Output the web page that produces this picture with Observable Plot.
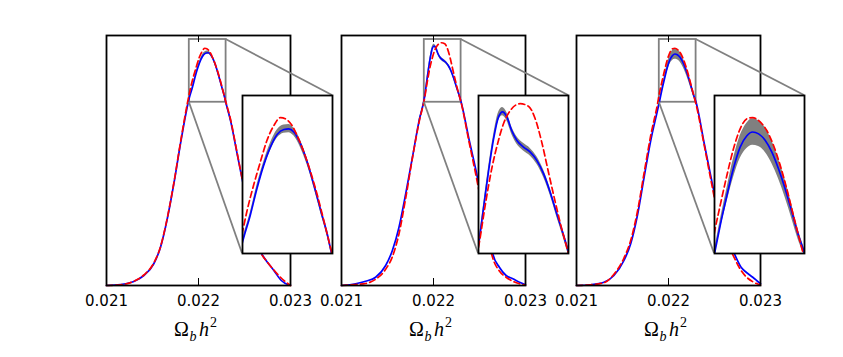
<!DOCTYPE html>
<html><head><meta charset="utf-8">
<script src="https://cdn.jsdelivr.net/npm/d3@7"></script>
<script src="https://cdn.jsdelivr.net/npm/@observablehq/plot@0.6"></script>
<style>
body{margin:0;background:#fff}
#fig{position:relative;width:843px;height:357px;overflow:hidden;background:#fff}
#fig > *{position:absolute}
</style>
</head><body><div id="fig"></div>
<script>
// ---- data ----
const xTicks = [0.021, 0.022, 0.023];
const xDomain = [0.021, 0.023];
const yDomain = [0, 1];
const zoomX = [0.0219, 0.0223];
const zoomY = [0.733, 0.984];

// panel 1
const blueX1 = [0.021000,0.021152,0.021297,0.021406,0.021514,0.021587,0.021641,0.021732,0.021804,0.021877,0.021900,0.021934,0.021964,0.021994,0.022024,0.022054,0.022084,0.022106,0.022128,0.022158,0.022188,0.022218,0.022248,0.022278,0.022293,0.022348,0.022420,0.022493,0.022565,0.022620,0.022674,0.022710,0.022819,0.022900,0.022970,0.023000];
const blueY1 = [0.000,0.004,0.016,0.040,0.087,0.153,0.233,0.407,0.567,0.713,0.751,0.793,0.836,0.873,0.902,0.922,0.930,0.931,0.926,0.907,0.878,0.841,0.801,0.762,0.738,0.660,0.527,0.393,0.280,0.200,0.135,0.113,0.060,0.020,0.004,0.002];
const redX1 = [0.021000,0.021152,0.021297,0.021406,0.021514,0.021587,0.021641,0.021732,0.021804,0.021877,0.021900,0.021919,0.021949,0.021979,0.022009,0.022039,0.022069,0.022090,0.022121,0.022143,0.022173,0.022203,0.022233,0.022263,0.022293,0.022348,0.022420,0.022493,0.022565,0.022620,0.022674,0.022746,0.022819,0.022891,0.023000];
const redY1 = [0.000,0.003,0.017,0.042,0.090,0.155,0.236,0.410,0.572,0.725,0.767,0.799,0.841,0.878,0.913,0.936,0.949,0.947,0.936,0.920,0.894,0.862,0.825,0.783,0.740,0.665,0.530,0.395,0.280,0.200,0.135,0.095,0.062,0.033,0.000];
const bandX1 = [0.021877,0.021900,0.021934,0.021964,0.021994,0.022024,0.022054,0.022084,0.022106,0.022128,0.022158,0.022188,0.022218,0.022248,0.022278,0.022293,0.022348];
const bandLo1 = [0.708,0.747,0.789,0.832,0.868,0.896,0.916,0.924,0.925,0.920,0.901,0.873,0.837,0.797,0.758,0.734,0.656];
const bandHi1 = [0.718,0.755,0.797,0.841,0.878,0.908,0.929,0.937,0.938,0.932,0.913,0.883,0.846,0.805,0.766,0.742,0.664];

// panel 2
const blueX2 = [0.021000,0.021153,0.021262,0.021371,0.021480,0.021553,0.021625,0.021698,0.021771,0.021844,0.021904,0.021922,0.021944,0.021967,0.021989,0.022007,0.022026,0.022048,0.022070,0.022100,0.022130,0.022159,0.022189,0.022219,0.022248,0.022278,0.022296,0.022389,0.022462,0.022505,0.022571,0.022607,0.022644,0.022716,0.022789,0.022862,0.022935,0.023000];
const blueY2 = [0.000,0.007,0.017,0.033,0.080,0.140,0.233,0.367,0.513,0.660,0.756,0.804,0.862,0.915,0.950,0.958,0.950,0.928,0.913,0.902,0.894,0.881,0.860,0.830,0.796,0.762,0.740,0.580,0.460,0.380,0.270,0.200,0.127,0.073,0.040,0.027,0.013,0.003];
const redX2 = [0.021000,0.021153,0.021262,0.021371,0.021480,0.021553,0.021625,0.021698,0.021771,0.021844,0.021904,0.021930,0.021959,0.021989,0.022011,0.022041,0.022085,0.022122,0.022152,0.022181,0.022211,0.022241,0.022270,0.022296,0.022389,0.022462,0.022505,0.022571,0.022607,0.022644,0.022716,0.022789,0.022862,0.022935,0.023000];
const redY2 = [0.000,0.004,0.008,0.025,0.065,0.115,0.207,0.350,0.510,0.655,0.751,0.810,0.868,0.913,0.939,0.960,0.971,0.967,0.947,0.910,0.862,0.815,0.772,0.738,0.570,0.440,0.360,0.240,0.165,0.110,0.058,0.033,0.017,0.007,0.001];
const bandX2 = [0.021844,0.021904,0.021922,0.021944,0.021967,0.021989,0.022007,0.022026,0.022048,0.022070,0.022100,0.022130,0.022159,0.022189,0.022219,0.022248,0.022278,0.022296,0.022389];
const bandLo2 = [0.655,0.751,0.799,0.857,0.909,0.944,0.952,0.944,0.922,0.907,0.896,0.888,0.875,0.854,0.825,0.791,0.757,0.735,0.576];
const bandHi2 = [0.665,0.761,0.809,0.868,0.921,0.957,0.965,0.957,0.934,0.919,0.908,0.900,0.887,0.866,0.836,0.801,0.767,0.745,0.584];

// panel 3
const blueX3 = [0.021000,0.021153,0.021298,0.021407,0.021516,0.021589,0.021662,0.021735,0.021807,0.021880,0.021903,0.021925,0.021955,0.021984,0.022014,0.022044,0.022069,0.022096,0.022125,0.022155,0.022184,0.022214,0.022244,0.022273,0.022296,0.022389,0.022462,0.022516,0.022607,0.022716,0.022789,0.022844,0.022916,0.023000];
const blueY3 = [0.000,0.003,0.013,0.040,0.100,0.167,0.280,0.433,0.580,0.700,0.738,0.777,0.825,0.868,0.902,0.920,0.926,0.923,0.913,0.894,0.868,0.836,0.799,0.762,0.738,0.567,0.433,0.340,0.230,0.127,0.073,0.053,0.033,0.007];
const redX3 = [0.021000,0.021153,0.021298,0.021407,0.021516,0.021589,0.021662,0.021735,0.021807,0.021880,0.021903,0.021925,0.021955,0.021984,0.022014,0.022044,0.022069,0.022103,0.022133,0.022162,0.022192,0.022221,0.022251,0.022281,0.022296,0.022389,0.022462,0.022516,0.022607,0.022716,0.022789,0.022844,0.022916,0.023000];
const redY3 = [0.000,0.003,0.011,0.045,0.110,0.180,0.295,0.450,0.600,0.725,0.772,0.809,0.857,0.899,0.931,0.947,0.949,0.942,0.928,0.905,0.873,0.836,0.793,0.751,0.730,0.560,0.420,0.320,0.205,0.110,0.060,0.035,0.015,0.002];
const bandX3 = [0.021880,0.021903,0.021925,0.021955,0.021984,0.022014,0.022044,0.022069,0.022096,0.022125,0.022155,0.022184,0.022214,0.022244,0.022273,0.022296,0.022389];
const bandLo3 = [0.695,0.732,0.770,0.814,0.853,0.884,0.900,0.905,0.903,0.894,0.876,0.852,0.822,0.788,0.754,0.732,0.562];
const bandHi3 = [0.705,0.744,0.785,0.836,0.883,0.920,0.940,0.947,0.944,0.933,0.912,0.884,0.850,0.810,0.770,0.744,0.572];

// ---- build tables ----
const zip = (xs, ys) => xs.map((x, i) => ({x, y: ys[i]}));
const zipBand = (xs, lo, hi) => xs.map((x, i) => ({x, lo: lo[i], hi: hi[i]}));
const panels = [
  {blue: zip(blueX1, blueY1), red: zip(redX1, redY1), band: zipBand(bandX1, bandLo1, bandHi1)},
  {blue: zip(blueX2, blueY2), red: zip(redX2, redY2), band: zipBand(bandX2, bandLo2, bandHi2)},
  {blue: zip(blueX3, blueY3), red: zip(redX3, redY3), band: zipBand(bandX3, bandLo3, bandHi3)}
];
const zoomBox = {x1: zoomX[0], x2: zoomX[1], y1: zoomY[0], y2: zoomY[1]};

// ---- layout & style ----
const L = {panelLefts: [106, 341, 576], panelTop: 35, panelW: 184, panelH: 250,
  insetLefts: [242, 478, 714], insetTop: 95, insetW: 90, insetH: 158,
  mL: 30, mR: 30, mT: 10, mB: 60, tick: 7, labelY: 336};
const BLUE = "#0000ff", RED = "#ff0000", GRAY = "#808080";
const LW = 1.7;

const fig = document.getElementById("fig");
const mains = [];

panels.forEach((p, i) => {
  const plot = Plot.plot({
    width: L.panelW + L.mL + L.mR,
    height: L.panelH + L.mT + L.mB,
    marginLeft: L.mL, marginRight: L.mR, marginTop: L.mT, marginBottom: L.mB,
    style: {background: "transparent", overflow: "visible", fontFamily: "DejaVu Sans", fontSize: "15px", color: "black"},
    x: {domain: xDomain, ticks: xTicks, tickFormat: d3.format(".3f"), tickSize: 0, tickPadding: 10, label: null},
    y: {domain: yDomain, axis: null},
    marks: [
      Plot.rect([zoomBox], {x1: "x1", x2: "x2", y1: "y1", y2: "y2", fill: "none", stroke: GRAY, strokeWidth: 1.8}),
      Plot.areaY(p.band, {x: "x", y1: "lo", y2: "hi", fill: GRAY, curve: "monotone-x"}),
      Plot.line(p.blue, {x: "x", y: "y", stroke: BLUE, strokeWidth: LW, curve: "monotone-x"}),
      Plot.line(p.red, {x: "x", y: "y", stroke: RED, strokeWidth: LW, strokeDasharray: "6,3.5", curve: "monotone-x"}),
      Plot.tickX(xTicks, {x: d => d, insetTop: L.panelH - L.tick, stroke: "black", strokeWidth: 1}),
      Plot.tickX(xTicks, {x: d => d, insetBottom: L.panelH - L.tick, stroke: "black", strokeWidth: 1}),
      Plot.frame({stroke: "black", strokeWidth: 1.8})
    ]
  });
  const left = L.panelLefts[i] - L.mL, top = L.panelTop - L.mT;
  plot.style.left = left + "px";
  plot.style.top = top + "px";
  fig.appendChild(plot);
  mains.push({plot, left, top});
});

// overlay: connectors and x labels
const ov = d3.create("svg").attr("width", 843).attr("height", 357)
  .style("left", "0px").style("top", "0px").style("overflow", "visible");
mains.forEach((m, i) => {
  const sx = m.plot.scale("x"), sy = m.plot.scale("y");
  const il = L.insetLefts[i];
  ov.append("line")
    .attr("x1", m.left + sx.apply(zoomX[1])).attr("y1", m.top + sy.apply(zoomY[1]))
    .attr("x2", il + L.insetW).attr("y2", L.insetTop)
    .attr("stroke", GRAY).attr("stroke-width", 1.8);
  ov.append("line")
    .attr("x1", m.left + sx.apply(zoomX[0])).attr("y1", m.top + sy.apply(zoomY[0]))
    .attr("x2", il).attr("y2", L.insetTop + L.insetH)
    .attr("stroke", GRAY).attr("stroke-width", 1.8);
  const cx = L.panelLefts[i] + L.panelW / 2;
  const t = ov.append("text").attr("x", cx - 24).attr("y", L.labelY)
    .attr("font-family", "Liberation Serif, DejaVu Serif, serif").attr("font-size", 20).attr("fill", "black");
  t.append("tspan").text("Ω");
  t.append("tspan").attr("font-style", "italic").attr("font-size", 14).attr("dx", 0.5).attr("dy", 5).text("b");
  t.append("tspan").attr("font-style", "italic").attr("dx", 2.5).attr("dy", -5).text("h");
  t.append("tspan").attr("font-size", 14).attr("dx", 1).attr("dy", -9).text("2");
});
fig.appendChild(ov.node());

// insets
panels.forEach((p, i) => {
  const inset = Plot.plot({
    width: L.insetW, height: L.insetH, margin: 0,
    style: {background: "white", overflow: "visible"},
    x: {domain: zoomX, axis: null},
    y: {domain: zoomY, axis: null},
    marks: [
      Plot.areaY(p.band, {x: "x", y1: "lo", y2: "hi", fill: GRAY, curve: "monotone-x", clip: true}),
      Plot.line(p.blue, {x: "x", y: "y", stroke: BLUE, strokeWidth: LW, curve: "monotone-x", clip: true}),
      Plot.line(p.red, {x: "x", y: "y", stroke: RED, strokeWidth: LW, strokeDasharray: "6,3.5", curve: "monotone-x", clip: true}),
      Plot.frame({stroke: "black", strokeWidth: 1.8})
    ]
  });
  inset.style.left = L.insetLefts[i] + "px";
  inset.style.top = L.insetTop + "px";
  fig.appendChild(inset);
});
</script>
</body></html>
